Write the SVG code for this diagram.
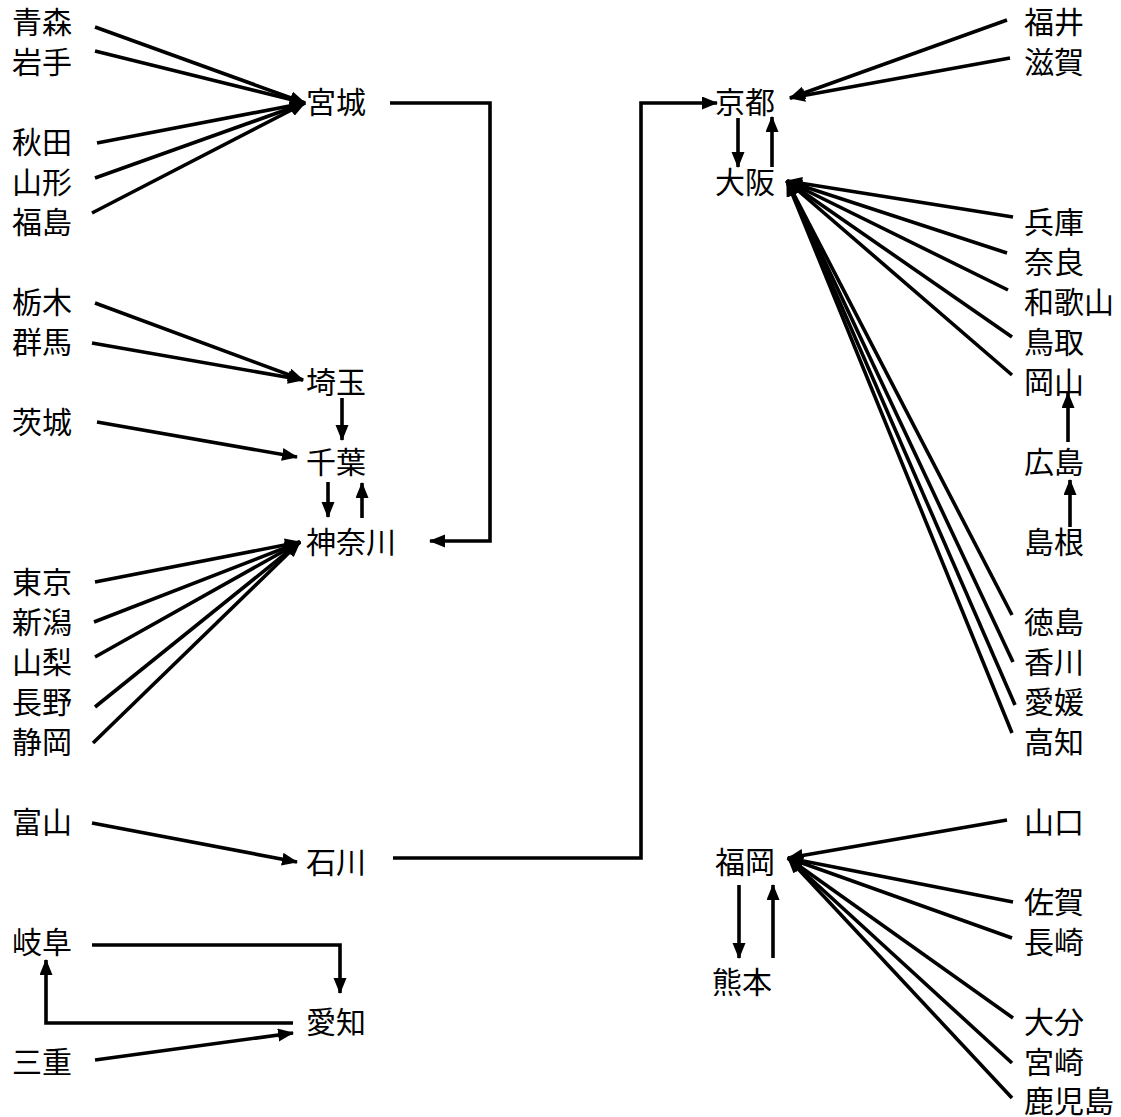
<svg xmlns="http://www.w3.org/2000/svg" width="1121" height="1117" viewBox="0 0 1121 1117">
<style>
text{font-family:"Noto Sans CJK JP","Noto Sans CJK SC",sans-serif;font-size:30px;fill:#000}
.c{fill:none;stroke:#000;stroke-width:3.6;marker-end:url(#ah)}
</style>
<defs>
<marker id="ah" markerUnits="userSpaceOnUse" markerWidth="17" markerHeight="14" refX="15" refY="6.5" orient="auto">
<path d="M0,0 L16,6.5 L0,13 z" fill="#000"/>
</marker>
</defs>
<rect width="1121" height="1117" fill="#fff"/>
<g id="connectors">
<line class="c" x1="95" y1="27" x2="305" y2="103"/>
<line class="c" x1="95" y1="51" x2="305" y2="103"/>
<line class="c" x1="97" y1="143" x2="305" y2="103"/>
<line class="c" x1="95" y1="178" x2="305" y2="103"/>
<line class="c" x1="92" y1="213" x2="305" y2="103"/>
<polyline class="c" points="390,103 490,103 490,541 430,541"/>
<line class="c" x1="95" y1="303" x2="303" y2="380"/>
<line class="c" x1="92" y1="343" x2="303" y2="380"/>
<line class="c" x1="342" y1="398" x2="342" y2="440"/>
<line class="c" x1="97" y1="422" x2="297" y2="457"/>
<line class="c" x1="328" y1="482" x2="328" y2="517"/>
<line class="c" x1="362" y1="518" x2="362" y2="483"/>
<line class="c" x1="95" y1="582" x2="300" y2="542"/>
<line class="c" x1="94" y1="622" x2="300" y2="542"/>
<line class="c" x1="95" y1="657" x2="300" y2="542"/>
<line class="c" x1="95" y1="707" x2="300" y2="542"/>
<line class="c" x1="93" y1="743" x2="300" y2="542"/>
<line class="c" x1="92" y1="823" x2="297" y2="862"/>
<polyline class="c" points="393,858 641,858 641,103 717,103"/>
<polyline class="c" points="92,945 340,945 340,993"/>
<polyline class="c" points="293,1023 46,1023 46,960"/>
<line class="c" x1="95" y1="1060" x2="293" y2="1033"/>
<line class="c" x1="1007" y1="20" x2="790" y2="98"/>
<line class="c" x1="1010" y1="58" x2="790" y2="98"/>
<line class="c" x1="738" y1="118" x2="738" y2="167"/>
<line class="c" x1="772" y1="167" x2="772" y2="117"/>
<line class="c" x1="1013" y1="217" x2="787" y2="181"/>
<line class="c" x1="1007" y1="253" x2="787" y2="181"/>
<line class="c" x1="1008" y1="290" x2="787" y2="181"/>
<line class="c" x1="1012" y1="337" x2="787" y2="181"/>
<line class="c" x1="1012" y1="375" x2="787" y2="181"/>
<line class="c" x1="1068" y1="442" x2="1068" y2="393"/>
<line class="c" x1="1070" y1="527" x2="1070" y2="480"/>
<line class="c" x1="1012" y1="615" x2="787" y2="181"/>
<line class="c" x1="1013" y1="662" x2="787" y2="181"/>
<line class="c" x1="1015" y1="705" x2="787" y2="181"/>
<line class="c" x1="1012" y1="733" x2="787" y2="181"/>
<line class="c" x1="1007" y1="820" x2="788" y2="858"/>
<line class="c" x1="1013" y1="902" x2="788" y2="858"/>
<line class="c" x1="1012" y1="938" x2="788" y2="858"/>
<line class="c" x1="1013" y1="1018" x2="788" y2="858"/>
<line class="c" x1="1012" y1="1063" x2="788" y2="858"/>
<line class="c" x1="1012" y1="1098" x2="788" y2="858"/>
<line class="c" x1="739" y1="885" x2="739" y2="958"/>
<line class="c" x1="773" y1="958" x2="773" y2="885"/>
</g>
<g id="n-aomori"><text x="12" y="33">青森</text></g>
<g id="n-iwate"><text x="12" y="73">岩手</text></g>
<g id="n-akita"><text x="12" y="153">秋田</text></g>
<g id="n-yamagata"><text x="12" y="193">山形</text></g>
<g id="n-fukushima"><text x="12" y="233">福島</text></g>
<g id="n-tochigi"><text x="12" y="313">栃木</text></g>
<g id="n-gunma"><text x="12" y="353">群馬</text></g>
<g id="n-ibaraki"><text x="12" y="433">茨城</text></g>
<g id="n-tokyo"><text x="12" y="593">東京</text></g>
<g id="n-niigata"><text x="12" y="633">新潟</text></g>
<g id="n-yamanashi"><text x="12" y="673">山梨</text></g>
<g id="n-nagano"><text x="12" y="713">長野</text></g>
<g id="n-shizuoka"><text x="12" y="753">静岡</text></g>
<g id="n-toyama"><text x="12" y="833">富山</text></g>
<g id="n-gifu"><text x="12" y="953">岐阜</text></g>
<g id="n-mie"><text x="12" y="1073">三重</text></g>
<g id="n-miyagi"><text x="306" y="113">宮城</text></g>
<g id="n-saitama"><text x="306" y="393">埼玉</text></g>
<g id="n-chiba"><text x="306" y="473">千葉</text></g>
<g id="n-kanagawa"><text x="306" y="553">神奈川</text></g>
<g id="n-ishikawa"><text x="306" y="873">石川</text></g>
<g id="n-aichi"><text x="306" y="1033">愛知</text></g>
<g id="n-kyoto"><text x="715" y="113">京都</text></g>
<g id="n-osaka"><text x="715" y="193">大阪</text></g>
<g id="n-fukuoka"><text x="715" y="873">福岡</text></g>
<g id="n-kumamoto"><text x="712" y="993">熊本</text></g>
<g id="n-fukui"><text x="1024" y="33">福井</text></g>
<g id="n-shiga"><text x="1024" y="73">滋賀</text></g>
<g id="n-hyogo"><text x="1024" y="233">兵庫</text></g>
<g id="n-nara"><text x="1024" y="273">奈良</text></g>
<g id="n-wakayama"><text x="1024" y="313">和歌山</text></g>
<g id="n-tottori"><text x="1024" y="353">鳥取</text></g>
<g id="n-okayama"><text x="1024" y="393">岡山</text></g>
<g id="n-hiroshima"><text x="1024" y="473">広島</text></g>
<g id="n-shimane"><text x="1024" y="553">島根</text></g>
<g id="n-tokushima"><text x="1024" y="633">徳島</text></g>
<g id="n-kagawa"><text x="1024" y="673">香川</text></g>
<g id="n-ehime"><text x="1024" y="713">愛媛</text></g>
<g id="n-kochi"><text x="1024" y="753">高知</text></g>
<g id="n-yamaguchi"><text x="1024" y="833">山口</text></g>
<g id="n-saga"><text x="1024" y="913">佐賀</text></g>
<g id="n-nagasaki"><text x="1024" y="953">長崎</text></g>
<g id="n-oita"><text x="1024" y="1033">大分</text></g>
<g id="n-miyazaki"><text x="1024" y="1073">宮崎</text></g>
<g id="n-kagoshima"><text x="1024" y="1112">鹿児島</text></g>
</svg>
